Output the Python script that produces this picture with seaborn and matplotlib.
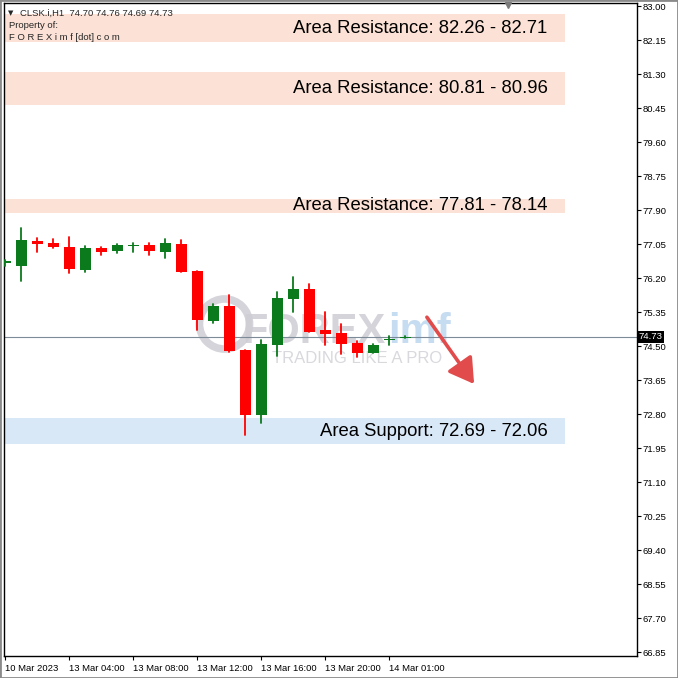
#Import the libraries
import numpy as np
import pandas as pd
import seaborn as sns
from matplotlib import pyplot as plt
from matplotlib.patches import Rectangle

# ---- data (CLSK.i, H1) ----
opens = [76.58, 76.51, 77.13, 77.08, 76.98, 76.41, 76.95, 76.88, 76.99, 77.03, 76.85, 77.05, 76.38,
         75.13, 75.50, 74.40, 72.78, 74.53, 75.68, 75.93, 74.90, 74.83, 74.58, 74.33, 74.64, 74.70]
highs = [76.65, 77.46, 77.20, 77.18, 77.23, 77.01, 76.97, 77.05, 77.08, 77.07, 77.18, 77.15, 76.38,
         75.55, 75.78, 74.40, 74.65, 75.85, 76.23, 76.05, 75.34, 75.05, 74.63, 74.55, 74.76, 74.76]
lows = [76.50, 76.13, 76.85, 76.96, 76.33, 76.36, 76.78, 76.83, 76.86, 76.78, 76.70, 76.36, 74.90,
        75.08, 74.35, 72.28, 72.57, 74.25, 75.35, 74.85, 74.53, 74.30, 74.22, 74.32, 74.52, 74.69]
closes = [76.60, 77.15, 77.06, 76.98, 76.43, 76.95, 76.85, 77.03, 77.03, 76.88, 77.08, 76.36, 75.16,
          75.50, 74.38, 72.78, 74.55, 75.70, 75.93, 74.85, 74.81, 74.55, 74.33, 74.52, 74.68, 74.73]

last_price = 74.73

# time axis labels (every 4th bar)
time_ticks = [0, 4, 8, 12, 16, 20, 24]
time_labels = ["10 Mar 2023", "13 Mar 04:00", "13 Mar 08:00", "13 Mar 12:00",
               "13 Mar 16:00", "13 Mar 20:00", "14 Mar 01:00"]

# price axis labels
price_ticks = [66.85, 67.70, 68.55, 69.40, 70.25, 71.10, 71.95, 72.80, 73.65, 74.50,
               75.35, 76.20, 77.05, 77.90, 78.75, 79.60, 80.45, 81.30, 82.15, 83.00]

# support / resistance zones (drawn band edges and the label text)
zone_top = [82.80, 81.35, 78.175, 72.70]
zone_bottom = [82.10, 80.525, 77.825, 72.05]
zone_labels = ["Area Resistance: 82.26 - 82.71", "Area Resistance: 80.81 - 80.96",
               "Area Resistance: 77.81 - 78.14", "Area Support: 72.69 - 72.06"]
zone_kind = ["res", "res", "res", "sup"]

# expected move arrow (bar index, price)
arrow_start = (26.35, 75.22)
arrow_end = (29.3, 73.55)

header = "CLSK.i,H1  74.70 74.76 74.69 74.73"

# ---- styling ----
sns.set_style("white")
plt.rcParams['font.family'] = ['Liberation Sans', 'DejaVu Sans']

UP = "#0b7a1c"
DOWN = "#ff0000"
ZONE_COL = {"res": "#fce2d6", "sup": "#d9e8f7"}
WM_GRAY = "#cdcdd4"

W, H = 678, 678
fig = plt.figure(figsize=(W / 100, H / 100), dpi=100)
ax = fig.add_axes([4 / W, (H - 656) / H, (636.5 - 4) / W, (656 - 3) / H])

x = np.arange(len(opens))
o = np.array(opens)
c = np.array(closes)
direction = np.where(c >= o, "up", "down")

# zones
for top, bot, lab, kind in zip(zone_top, zone_bottom, zone_labels, zone_kind):
    ax.fill_between([-1, 35], bot, top, color=ZONE_COL[kind], lw=0, zorder=0)
    ax.text(33.9, (top + bot) / 2, lab, ha='right', va='center', fontsize=13.3,
            color='black', zorder=6)

# watermark (logo ring + text)
ax.scatter([13.7], [75.05], s=1300, facecolors='none', edgecolors=WM_GRAY,
           linewidths=5.5, alpha=0.85, zorder=1)
ax.text(14.8, 74.85, "FOREX", fontsize=30, fontweight='bold', color=WM_GRAY,
        alpha=0.85, va='center', ha='left', zorder=1)
ax.text(23.9, 74.85, "imf", fontsize=30, fontweight='bold', color='#bcd6ee',
        alpha=0.85, va='center', ha='left', zorder=1)
ax.text(16.7, 74.18, "TRADING LIKE A PRO", fontsize=12, color='#d4d4da',
        alpha=0.9, va='center', ha='left', zorder=1)

# last price line
ax.axhline(last_price, color='#7d8b99', lw=0.8, zorder=2)

# wicks through seaborn, one unit per candle
wicks = pd.DataFrame({
    "x": np.repeat(x, 2),
    "price": np.ravel(np.column_stack([lows, highs])),
    "candle": np.repeat(x, 2),
    "dir": np.repeat(direction, 2),
})
sns.lineplot(data=wicks, x="x", y="price", units="candle", estimator=None, hue="dir",
             palette={"up": UP, "down": DOWN}, sort=False, legend=False, lw=1.3,
             ax=ax, zorder=3)

# bodies
body_low = np.minimum(o, c)
body_h = np.maximum(np.abs(c - o), 0.035)
ax.bar(x, body_h, bottom=body_low, width=0.69,
       color=[UP if d == "up" else DOWN for d in direction], lw=0, zorder=4)

# arrow
ax.annotate("", xy=arrow_end, xytext=arrow_start,
            arrowprops=dict(arrowstyle='-|>,head_length=0.75,head_width=0.45',
                            color='#e14b4b', lw=2.6, mutation_scale=20, shrinkA=0, shrinkB=0),
            zorder=5)

# axes setup
ax.set_xlim(-0.08, 39.45)
ax.set_ylim(66.75, 83.075)
ax.set_xlabel("")
ax.set_ylabel("")
ax.yaxis.tick_right()
ax.set_yticks(price_ticks)
ax.set_yticklabels([f"{p:.2f}" for p in price_ticks])
ax.set_xticks(time_ticks)
ax.set_xticklabels(time_labels)
for lbl in ax.get_xticklabels():
    lbl.set_ha('left')
ax.tick_params(axis='y', direction='out', length=3, width=0.8, pad=1.5, labelsize=6.8,
               colors='black', right=True, left=False)
ax.tick_params(axis='x', direction='out', length=3, width=0.8, pad=2.5, labelsize=6.8,
               colors='black', bottom=True)
for s in ax.spines.values():
    s.set_color('black')
    s.set_linewidth(1.0)

# last price tag on the scale
ax.text(1.003, last_price, f"{last_price:.2f}", transform=ax.get_yaxis_transform(),
        ha='left', va='center', fontsize=6.8, color='white', zorder=10, clip_on=False,
        bbox=dict(boxstyle='square,pad=0.18', fc='black', ec='none'))

# shift marker at top
ax.plot([31.4], [83.03], marker='v', color='#7a7a7a', ms=5, clip_on=False, zorder=7)

# header text top left
fig.text(8 / W, 1 - 13 / H, "\u25bc", fontsize=5, va='center', ha='left',
         family='DejaVu Sans')
fig.text(20 / W, 1 - 13 / H, header, fontsize=6.8, va='center', ha='left')
fig.text(9 / W, 1 - 25 / H, "Property of:", fontsize=6.8, va='center', ha='left')
fig.text(9 / W, 1 - 37 / H, "F O R E X i m f [dot] c o m", fontsize=6.8, va='center', ha='left')

# outer frame of the screenshot
fig.patches.append(Rectangle((0, 0), 1, 1, transform=fig.transFigure, fill=False,
                             ec='#8a8a8a', lw=2, figure=fig))

fig.savefig("out.png", dpi=100)
